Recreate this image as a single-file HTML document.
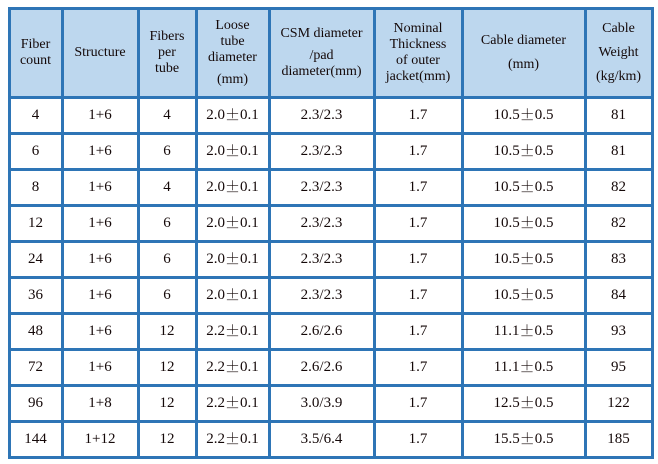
<!DOCTYPE html>
<html><head><meta charset="utf-8"><style>
body{margin:0;width:658px;height:464px;background:#fff;position:relative;overflow:hidden;font-family:"Liberation Serif",serif;color:#140808}
.ln{position:absolute;background:#2e75b6}
.c{position:absolute;display:flex;align-items:center;justify-content:center;text-align:center;font-size:15px;line-height:16px}
.h{font-size:14px;line-height:16px}
.pm{font-family:"Noto Serif CJK SC","Noto Sans CJK SC",serif;font-size:15px}
</style></head><body>
<div style="position:absolute;left:9px;top:8px;width:644px;height:89px;background:#bdd7ee"></div>
<div id="t"></div>
<script>
const cols=[9,62,138,196,269,374,462,585,652];
const rowLines=[8,97,133,169,205,241,277,313,349,385,421,457];
const headers=["Fiber<br>count","Structure","Fibers<br>per<br>tube","Loose<br>tube<br>diameter<br><span style='display:block;margin-top:6px'>(mm)</span>","CSM diameter<br><span style='display:block;margin-top:6px'>/pad</span>diameter(mm)","Nominal<br>Thickness<br>of outer<br>jacket(mm)","Cable diameter<br><span style='display:block;margin-top:8px'>(mm)</span>","Cable<br><span style='display:block;margin-top:8px'>Weight</span><span style='display:block;margin-top:8px'>(kg/km)</span>"];
const fiberCount=["4","6","8","12","24","36","48","72","96","144"];
const structure=["1+6","1+6","1+6","1+6","1+6","1+6","1+6","1+6","1+8","1+12"];
const fibersPerTube=["4","6","4","6","6","6","12","12","12","12"];
const looseTube=["2.0±0.1","2.0±0.1","2.0±0.1","2.0±0.1","2.0±0.1","2.0±0.1","2.2±0.1","2.2±0.1","2.2±0.1","2.2±0.1"];
const csm=["2.3/2.3","2.3/2.3","2.3/2.3","2.3/2.3","2.3/2.3","2.3/2.3","2.6/2.6","2.6/2.6","3.0/3.9","3.5/6.4"];
const jacket=["1.7","1.7","1.7","1.7","1.7","1.7","1.7","1.7","1.7","1.7"];
const cableDia=["10.5±0.5","10.5±0.5","10.5±0.5","10.5±0.5","10.5±0.5","10.5±0.5","11.1±0.5","11.1±0.5","12.5±0.5","15.5±0.5"];
const weight=["81","81","82","82","83","84","93","95","122","185"];
const data=[fiberCount,structure,fibersPerTube,looseTube,csm,jacket,cableDia,weight];
const t=document.getElementById('t');
function cell(x0,x1,y0,y1,html,cls){
  const d=document.createElement('div');
  d.className='c '+cls;
  d.style.left=x0+'px';d.style.top=y0+'px';d.style.width=(x1-x0)+'px';d.style.height=(y1-y0)+'px';
  d.innerHTML=html;t.appendChild(d);return d;
}
headers.forEach((h,i)=>{
  const d=cell(cols[i],cols[i+1],rowLines[0],rowLines[1],h,'h');
  
  
  d.style.flexDirection='column';
});
for(let r=0;r<fiberCount.length;r++){
  for(let c=0;c<data.length;c++){
    const txt=String(data[c][r]).replace('±','<span class="pm">±</span>');
    const d=cell(cols[c],cols[c+1],rowLines[r+1],rowLines[r+2],txt,'');
    
    
  }
}
cols.forEach(x=>{
  const l=document.createElement('div');l.className='ln';
  
  
  l.style.left=(x-1.5)+'px';l.style.top=(rowLines[0]-1.5)+'px';l.style.width='3px';l.style.height=(rowLines[rowLines.length-1]-rowLines[0]+3)+'px';t.appendChild(l);
});
rowLines.forEach(y=>{
  const l=document.createElement('div');l.className='ln';
  
  
  l.style.left=(cols[0]-1.5)+'px';l.style.top=(y-1.5)+'px';l.style.height='3px';l.style.width=(cols[cols.length-1]-cols[0]+3)+'px';t.appendChild(l);
});
</script>
</body></html>
